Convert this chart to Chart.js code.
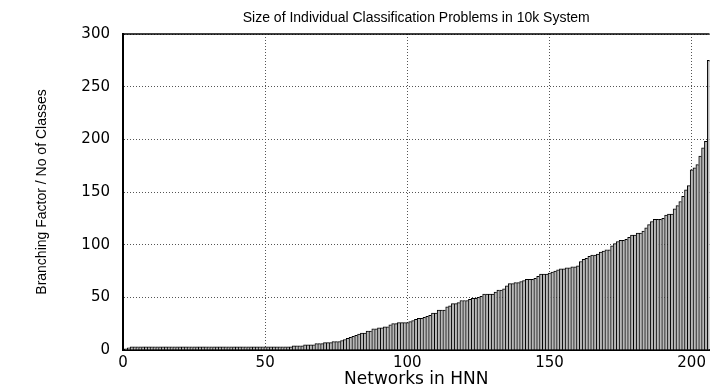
<!DOCTYPE html>
<html>
<head>
<meta charset="utf-8">
<script src="https://cdn.jsdelivr.net/npm/chart.js@4"></script>
<style>
html,body{margin:0;padding:0;background:#fff;}
#wrap{width:712px;height:388px;}
</style>
</head>
<body>
<div id="wrap"><canvas id="c" width="712" height="388"></canvas></div>
<script>
const chartTitle = "Size of Individual Classification Problems in 10k System";
const xAxisTitle = "Networks in HNN";
const yAxisTitle = "Branching Factor / No of Classes";
const xTicks = [0, 50, 100, 150, 200];
const yTicks = [0, 50, 100, 150, 200, 250, 300];

// number of classes per network, sorted ascending (networks 1..206)
const classCounts = [
  1, 2,
  3,3,3,3,3,3,3,3,3,3, 3,3,3,3,3,3,3,3,3,3, 3,3,3,3,3,3,3,3,3,3,
  3,3,3,3,3,3,3,3,3,3, 3,3,3,3,3,3,3,3,3,3, 3,3,3,3,3,3,3,
  4,4,4,4, 5,5,5,5, 6,6,6, 7,7,7, 8,8,8,9, 10,11, 12,13,
  14,15,16,16, 18,18, 20,20, 21,21,22,22, 24,25,25, 26,26,26,26,
  27, 28,29, 30,30,31, 32, 33, 35,35, 38,38,38, 41, 42, 44,44, 45,
  47,47,47, 48,49,49, 50,51, 53,53,53,53, 55, 57,57, 58, 61, 63,63,
  64,64,65, 66, 67,67,67,68, 70, 72,72,72, 73, 74, 75,76, 77,77, 78,
  78,79,79, 80, 84, 86, 87, 89, 90,90, 91, 93, 94,95,95, 99, 101, 103,
  104,104, 105, 107, 109,109, 111,111, 113, 116, 119, 122, 124,124,124,
  125, 128, 129,129, 134, 137, 141, 146, 152, 156, 171, 173, 176, 184,
  192, 198, 275
];
const networkIds = classCounts.map((_, i) => i + 1);

const points = networkIds.map((id, i) => ({x: id, y: classCounts[i]}));

const frame = {
  id: 'frame',
  afterDraw(chart) {
    const {ctx, chartArea: a} = chart;
    ctx.save();
    ctx.strokeStyle = '#000';
    ctx.lineWidth = 1.5;
    ctx.beginPath();
    ctx.moveTo(a.left, a.top);
    ctx.lineTo(a.right, a.top);
    ctx.stroke();
    ctx.restore();
  }
};

new Chart(document.getElementById('c'), {
  type: 'bar',
  data: {
    datasets: [{
      data: points,
      backgroundColor: '#b8b8b8',
      borderColor: '#000',
      borderWidth: {left: 1, top: 1, right: 0, bottom: 0},
      borderSkipped: false,
      barPercentage: 1,
      categoryPercentage: 1
    }]
  },
  options: {
    responsive: false,
    animation: false,
    devicePixelRatio: 1,
    layout: {padding: {left: 0, right: 0, top: 0, bottom: 0}},
    plugins: {
      legend: {display: false},
      tooltip: {enabled: false},
      title: {
        display: true,
        text: chartTitle,
        fullSize: false,
        color: '#000',
        font: {family: 'Liberation Sans', size: 14, weight: 'normal', lineHeight: 1.2},
        padding: {top: 10, bottom: 7.2}
      }
    },
    scales: {
      x: {
        type: 'linear',
        offset: false,
        min: 0,
        max: 206.3,
        afterBuildTicks: (s) => { s.ticks = xTicks.map(v => ({value: v})); },
        afterFit: (s) => { s.height = 38; },
        ticks: {
          stepSize: 50,
          includeBounds: false,
          color: '#000',
          padding: 6,
          maxRotation: 0,
          font: {family: 'DejaVu Sans', size: 15, lineHeight: 1}
        },
        grid: {color: '#555', lineWidth: 1, tickLength: 0, drawTicks: false, offset: false},
        border: {display: true, color: '#000', width: 2, dash: [1, 2]},
        title: {
          display: true,
          text: xAxisTitle,
          color: '#000',
          font: {family: 'DejaVu Sans', size: 17, lineHeight: 1},
          padding: {top: 0, bottom: 0}
        }
      },
      y: {
        min: 0,
        max: 300,
        afterBuildTicks: (s) => { s.ticks = yTicks.map(v => ({value: v})); },
        afterFit: (s) => { s.width = 123; },
        ticks: {
          stepSize: 50,
          color: '#000',
          padding: 13,
          font: {family: 'DejaVu Sans', size: 15, lineHeight: 1}
        },
        grid: {color: '#555', lineWidth: 1, tickLength: 0, drawTicks: false},
        border: {display: true, color: '#000', width: 2, dash: [1, 2]},
        title: {
          display: true,
          text: yAxisTitle,
          color: '#000',
          font: {family: 'Liberation Sans', size: 14, lineHeight: 1},
          padding: {top: 35, bottom: 0}
        }
      }
    }
  },
  plugins: [frame]
});
</script>
</body>
</html>
